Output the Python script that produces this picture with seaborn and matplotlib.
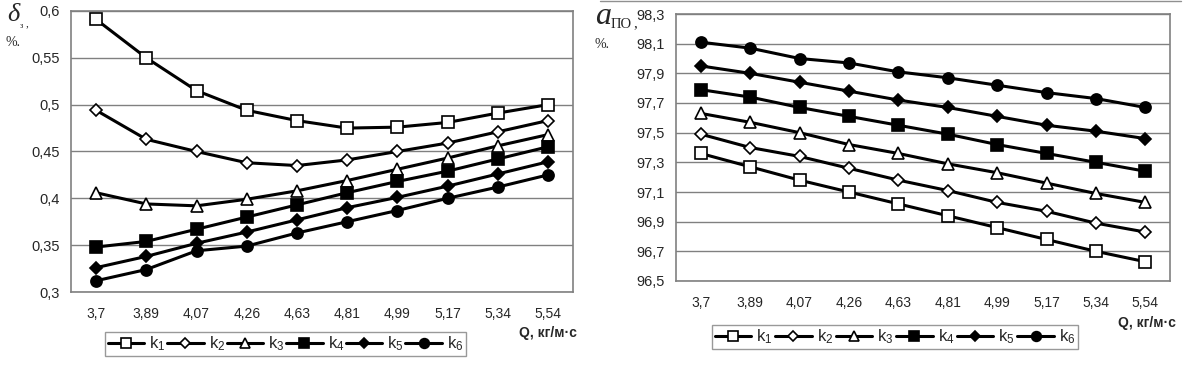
import numpy as np
import pandas as pd
import seaborn as sns
import matplotlib.pyplot as plt
from matplotlib.lines import Line2D

q_labels = ['3,7', '3,89', '4,07', '4,26', '4,63', '4,81', '4,99', '5,17', '5,34', '5,54']
series = ['k1', 'k2', 'k3', 'k4', 'k5', 'k6']

# left chart: delta_z, %
d_k1 = [0.591, 0.550, 0.515, 0.494, 0.483, 0.475, 0.476, 0.481, 0.491, 0.500]
d_k2 = [0.494, 0.463, 0.450, 0.438, 0.435, 0.441, 0.450, 0.459, 0.471, 0.483]
d_k3 = [0.406, 0.394, 0.392, 0.399, 0.408, 0.419, 0.431, 0.443, 0.456, 0.468]
d_k4 = [0.348, 0.354, 0.367, 0.380, 0.393, 0.406, 0.418, 0.429, 0.442, 0.455]
d_k5 = [0.326, 0.338, 0.352, 0.364, 0.377, 0.390, 0.401, 0.413, 0.426, 0.439]
d_k6 = [0.312, 0.324, 0.344, 0.349, 0.363, 0.375, 0.387, 0.400, 0.412, 0.425]

# right chart: a_PO, %
a_k1 = [97.36, 97.27, 97.18, 97.10, 97.02, 96.94, 96.86, 96.78, 96.70, 96.63]
a_k2 = [97.49, 97.40, 97.34, 97.26, 97.18, 97.11, 97.03, 96.97, 96.89, 96.83]
a_k3 = [97.63, 97.57, 97.50, 97.42, 97.36, 97.29, 97.23, 97.16, 97.09, 97.03]
a_k4 = [97.79, 97.74, 97.67, 97.61, 97.55, 97.49, 97.42, 97.36, 97.30, 97.24]
a_k5 = [97.95, 97.90, 97.84, 97.78, 97.72, 97.67, 97.61, 97.55, 97.51, 97.46]
a_k6 = [98.11, 98.07, 98.00, 97.97, 97.91, 97.87, 97.82, 97.77, 97.73, 97.67]

markers = {'k1': ('s', 'white'), 'k2': ('D', 'white'), 'k3': ('^', 'white'),
           'k4': ('s', 'black'), 'k5': ('D', 'black'), 'k6': ('o', 'black')}
msize = {'s': 8, 'D': 6.5, '^': 8.5, 'o': 8}

sns.set_style('white')
plt.rcParams['font.family'] = ['Liberation Sans', 'DejaVu Sans']
plt.rcParams['mathtext.fontset'] = 'custom'
plt.rcParams['mathtext.rm'] = 'Liberation Sans'
plt.rcParams['mathtext.it'] = 'Liberation Sans:italic'

W, H = 1187, 372
fig = plt.figure(figsize=(W / 100, H / 100), dpi=100)


def frac(x0, y0, x1, y1):
    return [x0 / W, 1 - y1 / H, (x1 - x0) / W, (y1 - y0) / H]


def draw(ax, data, ylim, yticks, ylabels):
    pos = np.arange(len(q_labels))
    for name, vals in zip(series, data):
        m, fc = markers[name]
        sns.lineplot(x=pos, y=vals, ax=ax, color='black', lw=2.2, marker=m,
                     ms=msize[m], mfc=fc, mec='black', mew=1.2, legend=False)
    ax.set_xlim(-0.5, len(q_labels) - 0.5)
    ax.set_ylim(*ylim)
    ax.set_xticks(pos)
    ax.set_xticklabels(q_labels)
    ax.set_xticks(np.arange(len(q_labels) + 1) - 0.5, minor=True)
    ax.tick_params(axis='x', which='major', length=0, pad=11, labelsize=10)
    ax.tick_params(axis='x', which='minor', length=5, color='#808080', width=1)
    ax.set_yticks(yticks)
    ax.set_yticklabels(ylabels)
    ax.tick_params(axis='y', length=5, color='#808080', width=1, labelsize=10.5, pad=3)
    ax.yaxis.grid(True, color='#808080', lw=1)
    ax.xaxis.grid(False)
    for s in ax.spines.values():
        s.set_color('#808080')
        s.set_linewidth(1.2)
    ax.set_xlabel('')
    ax.set_ylabel('')


def legend(x0, y0, x1, y1):
    handles = []
    labels = []
    for i, name in enumerate(series):
        m, fc = markers[name]
        handles.append(Line2D([], [], color='black', lw=2.2, marker=m, ms=msize[m] - 1,
                              mfc=fc, mec='black', mew=1.2))
        labels.append(r'$\mathregular{k_%d}$' % (i + 1))
    leg = fig.legend(handles, labels, loc='upper left',
                     bbox_to_anchor=(x0 / W, 1 - y1 / H, (x1 - x0) / W, (y1 - y0) / H),
                     mode='expand', ncol=6, frameon=True, fancybox=False, fontsize=12,
                     handlelength=2.2, handletextpad=0.3, columnspacing=0.6, borderpad=0.15,
                     borderaxespad=0)
    leg.get_frame().set_edgecolor('#808080')
    leg.get_frame().set_linewidth(1)


ax1 = fig.add_axes(frac(71, 11, 573, 292))
d_ticks = [0.3, 0.35, 0.4, 0.45, 0.5, 0.55, 0.6]
draw(ax1, [d_k1, d_k2, d_k3, d_k4, d_k5, d_k6], (0.3, 0.6), d_ticks,
     [('%g' % t).replace('.', ',') for t in d_ticks])

ax2 = fig.add_axes(frac(676, 14, 1170, 281))
a_ticks = [96.5, 96.7, 96.9, 97.1, 97.3, 97.5, 97.7, 97.9, 98.1, 98.3]
draw(ax2, [a_k1, a_k2, a_k3, a_k4, a_k5, a_k6], (96.5, 98.3), a_ticks,
     [('%.1f' % t).replace('.', ',') for t in a_ticks])

legend(105, 332, 466, 357)
legend(712, 325, 1078, 351)

fig.text(577 / W, 1 - 333 / H, 'Q, кг/м·с', ha='right', va='center', fontsize=10, fontweight='bold')
fig.text(1176 / W, 1 - 323 / H, 'Q, кг/м·с', ha='right', va='center', fontsize=10, fontweight='bold')

# y-axis titles
fig.text(7 / W, 1 - 15 / H, 'δ', family='Liberation Serif', style='italic', fontsize=19, ha='left', va='center')
fig.text(20 / W, 1 - 26 / H, 'з', family='Liberation Serif', fontsize=6, ha='left', va='center')
fig.text(26 / W, 1 - 24 / H, ',', family='Liberation Serif', fontsize=8, ha='left', va='center')
fig.text(6 / W, 1 - 43 / H, '%.', family='Liberation Serif', fontsize=10, ha='left', va='center')

fig.text(595 / W, 1 - 16 / H, 'a', family='Liberation Serif', style='italic', fontsize=23, ha='left', va='center')
fig.text(611 / W, 1 - 25 / H, 'ПО', family='Liberation Serif', fontsize=10.5, ha='left', va='center')
fig.text(633 / W, 1 - 24 / H, ',', family='Liberation Serif', fontsize=11, ha='left', va='center')
fig.text(595 / W, 1 - 45 / H, '%.', family='Liberation Serif', fontsize=10, ha='left', va='center')

# outer chart frame of the right chart
fig.add_artist(Line2D([600 / W, 1181 / W], [1 - 0.5 / H, 1 - 0.5 / H], color='#909090', lw=1))

fig.savefig('out.png', dpi=100)
